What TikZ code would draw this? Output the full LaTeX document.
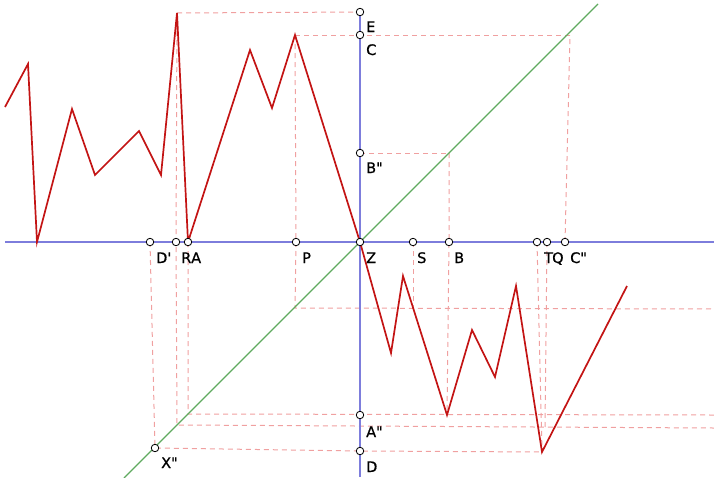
\documentclass[tikz,border=0pt]{standalone}
\usepackage{fontspec}
\setmainfont{DejaVu Sans}[Ligatures=TeXOff]
\newfontfamily\lblfont{DejaVu Sans}[Ligatures=TeXOff,FakeBold=0.8]
\definecolor{axisblue}{RGB}{125,125,220}
\definecolor{guidepink}{RGB}{240,160,160}
\definecolor{diaggreen}{RGB}{95,170,95}
\definecolor{graphred}{RGB}{195,20,20}
\begin{document}
\begin{tikzpicture}[x=1pt,y=-1pt,
  axis/.style={draw=axisblue, line width=1.3pt},
  guide/.style={draw=guidepink, line width=1pt, dash pattern=on 5pt off 4pt},
  diag/.style={draw=diaggreen, line width=1.1pt},
  graph/.style={draw=graphred, line width=1.7pt, line join=miter},
  pt/.style={circle, draw=black, fill=white, line width=0.8pt, inner sep=0pt, minimum size=7.5pt},
  lbl/.style={anchor=base west, inner sep=0pt, font=\lblfont\fontsize{14.5}{17}\selectfont}]
\useasboundingbox (0,0) rectangle (714,477);

% coordinates of axes and diagonal
\coordinate (hl) at (5,242);
\coordinate (hr) at (714,242);
\coordinate (vb) at (360,477);
\coordinate (g1) at (124,478);
\coordinate (g2) at (598,4);

% graph vertices
\coordinate (v1) at (5,107);
\coordinate (v2) at (28,64);
\coordinate (v3) at (37,242);
\coordinate (v4) at (72,109);
\coordinate (v5) at (95,175);
\coordinate (v6) at (139,131);
\coordinate (v7) at (161,175);
\coordinate (v8) at (177,13);
\coordinate (v9) at (188,242);
\coordinate (v10) at (250,50);
\coordinate (v11) at (272,108);
\coordinate (v12) at (295,35);
\coordinate (v13) at (360,242);
\coordinate (v14) at (391,353);
\coordinate (v15) at (403,276);
\coordinate (v16) at (447,415);
\coordinate (v17) at (472,330);
\coordinate (v18) at (495,377);
\coordinate (v19) at (516,286);
\coordinate (v20) at (542,452);
\coordinate (v21) at (627,286);

% construction coordinates
\coordinate (gc) at (570,35);
\coordinate (gb) at (449,153);
\coordinate (gp) at (295,308);
\coordinate (ga) at (188,414);
\coordinate (gr) at (177,425);
\coordinate (sp) at (413,308);
\coordinate (qb) at (545,427);
\coordinate (e1) at (714,415);
\coordinate (e2) at (714,428);
\coordinate (e3) at (714,309);

% points (drawn later)
\path
  (360,12) coordinate (Ep)
  (360,35) coordinate (Cp)
  (360,153) coordinate (Bpp)
  (360,415) coordinate (App)
  (360,451) coordinate (Dp)
  (155,448) coordinate (Xpp)
  (150,242) coordinate (Dprime)
  (176,242) coordinate (Rp)
  (188,242) coordinate (Ap)
  (296,242) coordinate (Pp)
  (360,242) coordinate (Zp)
  (413,242) coordinate (Sp)
  (449,242) coordinate (Bp)
  (537,242) coordinate (Tp)
  (547,242) coordinate (Qp)
  (565,242) coordinate (Cpp);

% guide lines
\draw[guide] (v8) -- (Ep);
\draw[guide] (v12) -- (gc);
\draw[guide] (Bpp) -- (gb);
\draw[guide] (v8) -- (Rp) -- (gr) -- (e2);
\draw[guide] (Ap) -- (ga) -- (e1);
\draw[guide] (Dprime) -- (Xpp) -- (Dp) -- (v20);
\draw[guide] (v12) -- (Pp) -- (gp) -- (e3);
\draw[guide] (Sp) -- (sp);
\draw[guide] (gb) -- (Bp) -- (v16);
\draw[guide] (Tp) -- (v20);
\draw[guide] (Qp) -- (qb);
\draw[guide] (Cpp) -- (gc);

% axes and diagonal
\draw[axis] (hl) -- (hr);
\draw[axis] (Ep) -- (vb);
\draw[diag] (g1) -- (g2);

% graph
\draw[graph] (v1) -- (v2) -- (v3) -- (v4) -- (v5) -- (v6) -- (v7) -- (v8) -- (v9) -- (v10) -- (v11) -- (v12) -- (v13) -- (v14) -- (v15) -- (v16) -- (v17) -- (v18) -- (v19) -- (v20) -- (v21);

% point markers
\foreach \p in {Ep,Cp,Bpp,App,Dp,Xpp,Dprime,Rp,Ap,Pp,Zp,Sp,Bp,Tp,Qp,Cpp}
  \node[pt] (m\p) at (\p) {};

% labels
\node[lbl] (lE) at (366,32) {E};
\node[lbl] (lC) at (366,55) {C};
\node[lbl] (lBpp) at (366,173) {B"};
\node[lbl] (lApp) at (366,437) {A"};
\node[lbl] (lD) at (366,472) {D};
\node[lbl] (lX) at (161,468) {X"};
\node[lbl] (lDp) at (156,263) {D'};
\node[lbl] (lR) at (181,263) {R};
\node[lbl] (lA) at (191,263) {A};
\node[lbl] (lP) at (302,263) {P};
\node[lbl] (lZ) at (366,263) {Z};
\node[lbl] (lS) at (417,263) {S};
\node[lbl] (lB) at (454,263) {B};
\node[lbl] (lT) at (544,263) {T};
\node[lbl] (lQ) at (552,263) {Q};
\node[lbl] (lCpp) at (570,263) {C"};
\end{tikzpicture}
\end{document}
